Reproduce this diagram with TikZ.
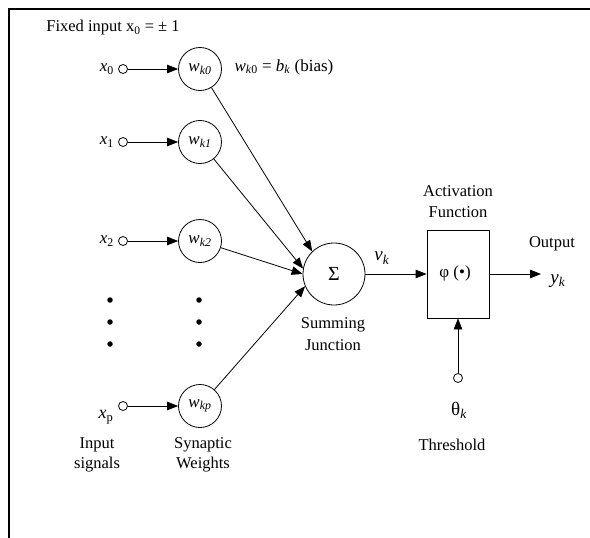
\documentclass[tikz,border=0pt]{standalone}
\usepackage{fontspec}
\setmainfont{Liberation Serif}
\usetikzlibrary{arrows.meta}
\begin{document}
\begin{tikzpicture}[x=1pt,y=-1pt,
  font=\fontsize{16.5}{18}\selectfont,
  wt/.style={circle,draw,line width=0.8pt,minimum size=43pt,inner sep=0pt,font=\fontsize{17}{18}\selectfont},
  inp/.style={circle,draw,line width=0.8pt,minimum size=9pt,inner sep=0pt},
  arr/.style={-{Triangle[length=11pt,width=8.5pt]},line width=0.8pt},
  lbl/.style={inner sep=0pt,align=center},
  bigdot/.style={circle,fill,minimum size=5.5pt,inner sep=0pt}]
\useasboundingbox (0,0) rectangle (590,538);
\draw[line width=2.2pt] (9,538) -- (9,9) -- (590,9);

% title
\node[lbl] (fixed) at (113,28) {Fixed input x\textsubscript{0} = ± 1};

% input terminals
\node[inp] (in0) at (123,69) {};
\node[inp] (in1) at (123,142) {};
\node[inp] (in2) at (123,241) {};
\node[inp] (inp) at (123,406) {};
\node[lbl,anchor=east,font=\fontsize{17}{18}\selectfont] (lx0) at (114,69) {\textit{x}\textsubscript{0}};
\node[lbl,anchor=east,font=\fontsize{17}{18}\selectfont] (lx1) at (114,142) {\textit{x}\textsubscript{1}};
\node[lbl,anchor=east,font=\fontsize{17}{18}\selectfont] (lx2) at (114,241) {\textit{x}\textsubscript{2}};
\node[lbl,font=\fontsize{18}{20}\selectfont] (lxp) at (106,417) {\textit{x}\textsubscript{p}};

% weights
\node[wt] (w0) at (200,69) {\textit{w}\textsubscript{\textit{k0}}};
\node[wt] (w1) at (200,142) {\textit{w}\textsubscript{\textit{k1}}};
\node[wt] (w2) at (200,241) {\textit{w}\textsubscript{\textit{k2}}};
\node[wt] (wp) at (200,406) {\textit{w}\textsubscript{\textit{kp}}};

% dots
\node[bigdot] (d1) at (110,300) {};
\node[bigdot] (d2) at (110,322) {};
\node[bigdot] (d3) at (110,344) {};
\node[bigdot] (e1) at (199,300) {};
\node[bigdot] (e2) at (199,322) {};
\node[bigdot] (e3) at (199,344) {};

% bias label
\node[lbl,font=\fontsize{17}{18}\selectfont] (bias) at (284,67) {\textit{w}\textsubscript{\textit{k}0} = \textit{b}\textsubscript{\textit{k}} (bias)};

% summing junction
\node[circle,draw,line width=0.8pt,minimum size=62pt,inner sep=0pt,font=\fontsize{20}{22}\selectfont] (sig) at (334,274) {Σ};
\node[lbl,font=\fontsize{16.5}{22}\selectfont] (sumlbl) at (333,334) {Summing\\Junction};
\node[lbl,font=\fontsize{19}{20}\selectfont] (vk) at (382,258) {\textit{v}\textsubscript{\textit{k}}};

% activation
\node[draw,line width=0.8pt,minimum width=62pt,minimum height=88pt,inner sep=0pt] (box) at (458,274) {};
\node[lbl,font=\fontsize{17}{18}\selectfont] (phi) at (455,273) {φ (•)};
\node[lbl,font=\fontsize{16.5}{21}\selectfont] (actlbl) at (458,202) {Activation\\Function};

% output
\coordinate (out) at (541,274);
\node[lbl] (outlbl) at (552,244) {Output};
\node[lbl,font=\fontsize{19}{20}\selectfont] (yk) at (558,281) {\textit{y}\textsubscript{\textit{k}}};

% threshold
\node[inp] (thc) at (458,378) {};
\node[lbl,font=\fontsize{19}{20}\selectfont] (th) at (459,410) {θ\textsubscript{\textit{k}}};
\node[lbl] (thlbl) at (452,445) {Threshold};

% bottom labels
\node[lbl,font=\fontsize{16.5}{20}\selectfont] (inlbl) at (97,455) {Input\\signals};
\node[lbl,font=\fontsize{16.5}{20}\selectfont] (wlbl) at (203,455) {Synaptic\\Weights};

% connectors
\draw[arr] (in0) -- (w0);
\draw[arr] (in1) -- (w1);
\draw[arr] (in2) -- (w2);
\draw[arr] (inp) -- (wp);
\draw[arr] (w0) -- (sig.134);
\draw[arr] (w1) -- (sig.170);
\draw[arr] (w2) -- (sig.180);
\draw[arr] (wp) -- (sig.203);
\draw[arr] (sig) -- (box);
\draw[arr] (box) -- (out);
\draw[arr] (thc) -- (box);
\end{tikzpicture}
\end{document}
